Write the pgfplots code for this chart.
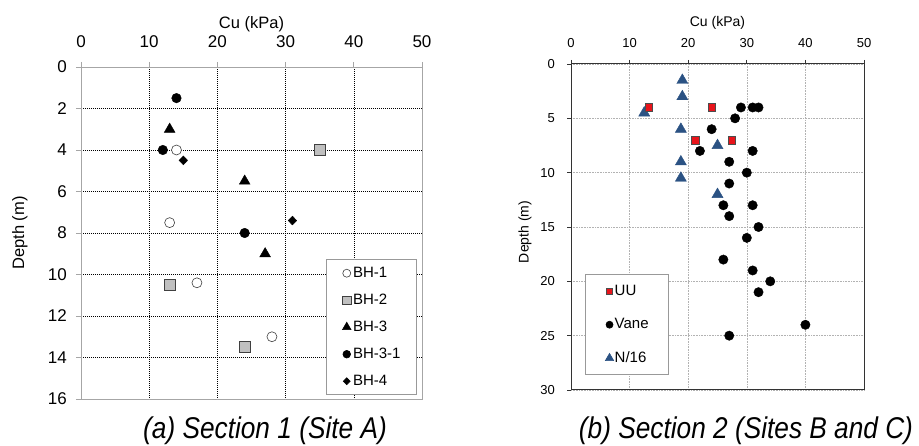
\documentclass[border=0pt]{standalone}
\usepackage{fontspec}
\setmainfont{Liberation Sans}
\newfontfamily\capfont[FakeStretch=0.875]{Liberation Sans}
\usepackage{pgfplots}
\pgfplotsset{compat=1.18}
\definecolor{bhgray}{HTML}{C0C0C0}
\definecolor{uured}{HTML}{E8141B}
\definecolor{nblue}{HTML}{2B5283}

\begin{document}
\begin{tikzpicture}
\useasboundingbox (0,0) rectangle (919pt,446pt);

% (a) Section 1
\begin{axis}[
  at={(81pt,47pt)}, anchor=south west,
  width=341pt, height=332pt, scale only axis,
  xmin=0, xmax=50, ymin=0, ymax=16, y dir=reverse,
  xtick={0,10,...,50}, ytick={0,2,...,16},
  xtick pos=right, ytick pos=left, xticklabel pos=right,
  tick align=outside, major tick length=5pt,
  tick style={gray!70, line width=0.6pt},
  axis line style={gray!70, line width=0.6pt},
  grid=major, grid style={black, line width=0.5pt, dash pattern=on 1.2pt off 0.8pt},
  /pgf/number format/assume math mode=true,
  ticklabel style={font=\fontsize{17}{17}\selectfont, inner sep=0pt},
  xticklabel style={yshift=14pt},
  yticklabel style={xshift=-9pt},
  xlabel={Cu (kPa)}, ylabel={Depth (m)},
  label style={font=\fontsize{16.5}{17}\selectfont},
  xlabel style={at={(axis description cs:0.5,1.129)}, anchor=center},
  ylabel style={at={(axis description cs:-0.179,0.5)}, anchor=center},
  legend style={at={(axis description cs:0.985,0.012)}, anchor=south east,
    draw=gray!80, line width=0.6pt, font=\fontsize{15}{15}\selectfont,
    inner xsep=16pt, inner ysep=6.5pt, row sep=13pt, column sep=2pt,
    nodes={inner sep=0pt, text height=11pt, text depth=3pt}},
  legend cell align=left,
  legend image code/.code={\draw[#1, /tikz/every mark/.append style={scale=0.8}] plot coordinates {(0pt,0pt)};},
]
\addplot[only marks, mark=*, mark size=5pt, mark options={fill=white, draw=black!75, line width=0.6pt}]
  coordinates {(14,4) (13,7.5) (17,10.4) (28,13)};
\addlegendentry{BH-1}
\addplot[only marks, mark=square*, mark size=5.4pt, mark options={fill=bhgray, draw=black!75, line width=0.6pt}]
  coordinates {(35,4) (13,10.5) (24,13.5)};
\addlegendentry{BH-2}
\addplot[only marks, mark=triangle*, mark size=6.2pt, mark options={fill=black, draw=black}]
  coordinates {(13,3) (24,5.5) (27,9)};
\addlegendentry{BH-3}
\addplot[only marks, mark=*, mark size=4.8pt, mark options={fill=black, draw=black}]
  coordinates {(14,1.5) (12,4) (24,8)};
\addlegendentry{BH-3-1}
\addplot[only marks, mark=diamond*, mark size=4.4pt, mark options={fill=black, draw=black, xscale=1.3}]
  coordinates {(15,4.5) (31,7.4)};
\addlegendentry{BH-4}
\end{axis}

% (b) Section 2
\begin{axis}[
  at={(571pt,56pt)}, anchor=south west,
  width=293pt, height=326pt, scale only axis,
  xmin=0, xmax=50, ymin=0, ymax=30, y dir=reverse,
  xtick={0,10,...,50}, ytick={0,5,...,30},
  xtick pos=right, ytick pos=left, xticklabel pos=right,
  tick align=outside, major tick length=4pt,
  tick style={black!80, line width=0.8pt},
  axis line style={black!80, line width=1pt},
  grid=major, grid style={gray!60, line width=0.5pt, dash pattern=on 0.8pt off 0.8pt},
  /pgf/number format/assume math mode=true,
  ticklabel style={font=\fontsize{13}{13}\selectfont, inner sep=0pt},
  xticklabel style={yshift=12pt},
  yticklabel style={xshift=-12pt},
  xlabel={Cu (kPa)}, ylabel={Depth (m)},
  label style={font=\fontsize{14}{14}\selectfont},
  xlabel style={at={(axis description cs:0.5,1.127)}, anchor=center},
  ylabel style={at={(axis description cs:-0.157,0.485)}, anchor=center},
  legend style={at={(axis description cs:0.048,0.046)}, anchor=south west,
    draw=gray!80, line width=0.6pt, font=\fontsize{15}{15}\selectfont,
    inner xsep=20pt, inner ysep=9.5pt, row sep=19.5pt, column sep=1pt,
    nodes={inner sep=0pt, text height=11pt, text depth=3pt}},
  legend cell align=left, reverse legend,
  legend image code/.code={\draw[#1, /tikz/every mark/.append style={scale=0.75}] plot coordinates {(0pt,0pt)};},
]
\addplot[only marks, mark=triangle*, mark size=6.4pt, mark options={fill=nblue, draw=nblue}]
  coordinates {(19,1.5) (19,3) (12.5,4.5) (18.75,6) (25,7.5) (18.75,9) (18.75,10.5) (25,12)};
\addlegendentry{N/16}
\addplot[only marks, mark=*, mark size=4.7pt, mark options={fill=black, draw=black}]
  coordinates {(29,4) (31,4) (32,4) (28,5) (24,6) (22,8) (31,8) (27,9) (30,10) (27,11)
               (26,13) (31,13) (27,14) (32,15) (30,16) (26,18) (31,19) (34,20) (32,21)
               (40,24) (27,25)};
\addlegendentry{Vane}
\addplot[only marks, mark=square*, mark size=3.8pt, mark options={fill=uured, draw=black!70, line width=0.5pt}]
  coordinates {(13.3,4) (24,4) (21.2,7) (27.4,7)};
\addlegendentry{UU}
\end{axis}

\node[anchor=base, font={\capfont\fontsize{30}{32}\selectfont\itshape}] at (265pt,7pt) {(a) Section 1 (Site A)};
\node[anchor=base, font={\capfont\fontsize{30}{32}\selectfont\itshape}] at (746pt,7pt) {(b) Section 2 (Sites B and C)};
\end{tikzpicture}
\end{document}
